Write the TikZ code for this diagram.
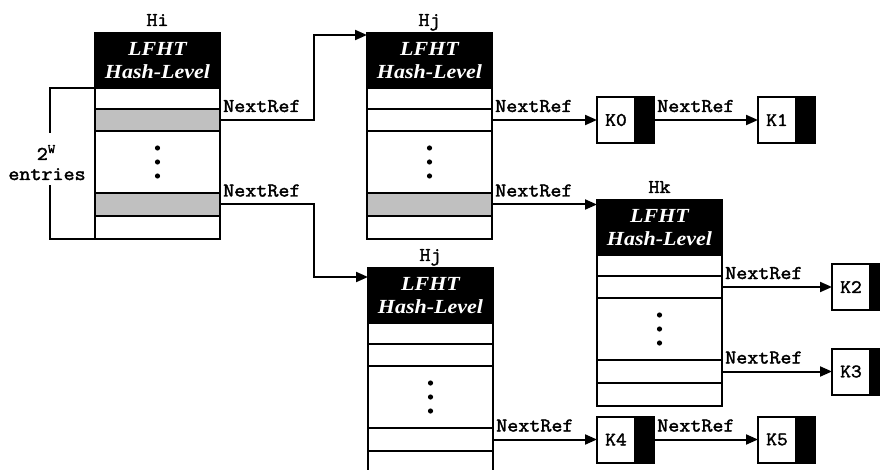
\documentclass[tikz,border=0pt]{standalone}
\usepackage{fontspec}
\setmainfont{Liberation Serif}
\newfontfamily\crfont[FakeStretch=1.1,FakeBold=2]{Latin Modern Mono}
\newfontfamily\hdrfont[FakeStretch=1.1]{Liberation Serif}
\usetikzlibrary{arrows.meta,calc}
\definecolor{cellgrey}{RGB}{192,192,192}
\tikzset{
 hdr/.style={anchor=north west, draw, fill=black, line width=2.5pt, outer sep=0pt, inner sep=0pt,
   minimum width=125pt, minimum height=55pt, text=white, align=center,
   font=\hdrfont\bfseries\itshape\fontsize{20}{23}\selectfont},
 cell/.style={draw, line width=2.5pt, outer sep=0pt, inner sep=0pt, minimum width=125pt, anchor=north},
 mono/.style={font=\crfont\fontsize{19.5}{18}\selectfont, inner sep=0pt},
 arr/.style={line width=2pt, -{Triangle[length=12pt,width=10pt]}},
 bracket/.style={line width=2pt},
 kbox/.style={draw, fill=white, line width=2pt, outer sep=0pt, minimum width=38pt, minimum height=46pt,
   inner sep=0pt, anchor=west, font=\crfont\fontsize{19}{18}\selectfont},
 kblk/.style={draw, fill=black, line width=2pt, outer sep=0pt, minimum width=19pt, minimum height=46pt,
   inner sep=0pt, anchor=west},
}
\newcommand\lfhttab[6]{%
 \node[hdr] (#1) at (#2,#3) {LFHT\\Hash-Level};
 \node[cell, minimum height=21pt, fill=white] (#1-1) at (#1.south) {};
 \node[cell, minimum height=22pt, fill=#4] (#1-2) at (#1-1.south) {};
 \node[cell, minimum height=62pt, fill=white] (#1-3) at (#1-2.south) {};
 \node[cell, minimum height=23pt, fill=#5] (#1-4) at (#1-3.south) {};
 \node[cell, minimum height=23pt, fill=white] (#1-5) at (#1-4.south) {};
 \fill ($(#1-3.center)+(0,-14)$) circle (2.6pt);
 \fill (#1-3.center) circle (2.6pt);
 \fill ($(#1-3.center)+(0,14)$) circle (2.6pt);
 \node[mono, anchor=base] (#1-t) at ($(#1.north)+(0,-7)$) {#6};
}
\begin{document}
\begin{tikzpicture}[x=1pt,y=-1pt]
\useasboundingbox (0,0) rectangle (880,470);

\lfhttab{Hi}{95}{33}{cellgrey}{cellgrey}{Hi}
\lfhttab{Hj}{367}{33}{white}{cellgrey}{Hj}
\lfhttab{Hk}{597}{200}{white}{white}{Hk}
\lfhttab{Hjb}{368}{268}{white}{white}{Hj}

% bracket
\draw[bracket] (Hi-1.north west) -- ++(-45,0) -- ++(0,45);
\draw[bracket] (Hi-5.south west) -- ++(-45,0) -- ++(0,-54);
\node[mono, anchor=base] (brl2) at (46,160) {2\raisebox{7pt}{\fontsize{13}{13}\selectfont W}};
\node[mono, anchor=base] (brl) at (47,180) {entries};

% key boxes
\node[kbox] (K0) at (597,120) {K0};
\node[kblk] (K0b) at (K0.east) {};
\node[kbox] (K1) at (758,120) {K1};
\node[kblk] (K1b) at (K1.east) {};
\node[kbox] (K2) at (832,287) {K2};
\node[kblk] (K2b) at (K2.east) {};
\node[kbox] (K3) at (832,371.5) {K3};
\node[kblk] (K3b) at (K3.east) {};
\node[kbox] (K4) at (597,439.5) {K4};
\node[kblk] (K4b) at (K4.east) {};
\node[kbox] (K5) at (758,439.5) {K5};
\node[kblk] (K5b) at (K5.east) {};

% connectors
\draw[arr] (Hi-2.east) -- ++(94,0) |- ($(Hj.north west)+(0,2)$);
\draw[arr] (Hi-4.east) -- ++(94,0) |- ($(Hjb.north west)+(0,9)$);
\draw[arr] (Hj-2.east) -- (K0.west);
\draw[arr] (Hj-4.east) -- (Hj-4.east -| Hk.west);
\draw[arr] (K0b.east) -- (K1.west);
\draw[arr] (Hk-2.east) -- (K2.west);
\draw[arr] (Hk-4.east) -- (K3.west);
\draw[arr] (Hjb-4.east) -- (K4.west);
\draw[arr] (K4b.east) -- (K5.west);

% labels
\node[mono, anchor=base west] (n1) at ($(Hi-2.east)+(3,-8)$) {NextRef};
\node[mono, anchor=base west] (n2) at ($(Hi-4.east)+(3,-8)$) {NextRef};
\node[mono, anchor=base west] (n3) at ($(Hj-2.east)+(3,-8)$) {NextRef};
\node[mono, anchor=base west] (n4) at ($(Hj-4.east)+(3,-8)$) {NextRef};
\node[mono, anchor=base west] (n5) at ($(K0b.east)+(3,-8)$) {NextRef};
\node[mono, anchor=base west] (n6) at ($(Hk-2.east)+(3,-8)$) {NextRef};
\node[mono, anchor=base west] (n7) at ($(Hk-4.east)+(3,-8)$) {NextRef};
\node[mono, anchor=base west] (n8) at ($(Hjb-4.east)+(3,-8)$) {NextRef};
\node[mono, anchor=base west] (n9) at ($(K4b.east)+(3,-8)$) {NextRef};
\end{tikzpicture}
\end{document}
